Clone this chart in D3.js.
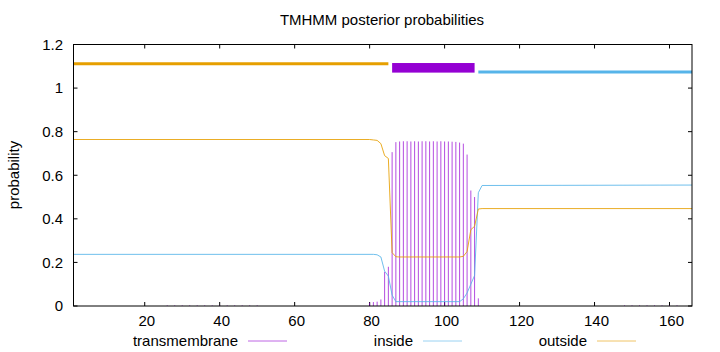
<!DOCTYPE html>
<html>
<head>
<meta charset="UTF-8">
<title>TMHMM posterior probabilities</title>
<style>
  body { margin: 0; background: #fff; }
  svg { display: block; }
  text { font-family: "Liberation Sans", Arial, sans-serif; font-size: 15px; fill: #000; }
</style>
</head>
<body>
<script src="https://d3js.org/d3.v7.min.js"></script>
<script>
// 서열 길이와 축 눈금
const seqLength = 166;
const xTicks = [20, 40, 60, 80, 100, 120, 140, 160];
const yTicks = [0, 0.2, 0.4, 0.6, 0.8, 1, 1.2];

// 상단 토폴로지 막대 (시작, 끝, 종류)
const regionStart = [1, 86, 109];
const regionEnd = [85, 108, 166];
const regionType = ["outside", "TM", "inside"];

// outside 확률 [잔기, 값]
const outsideProb = [
  [1, 0.764], [80, 0.764], [81, 0.762], [82, 0.76], [83, 0.745], [84, 0.69],
  [85, 0.677], [86, 0.245], [87, 0.226], [88, 0.225], [104, 0.225], [105, 0.228],
  [106, 0.25], [107, 0.35], [108, 0.366], [109, 0.445], [110, 0.447], [166, 0.447]
];

// inside 확률 [잔기, 값]
const insideProb = [
  [1, 0.237], [81, 0.237], [82, 0.235], [83, 0.225], [84, 0.16], [85, 0.137],
  [86, 0.05], [87, 0.02], [104, 0.02], [105, 0.033], [106, 0.06], [107, 0.1],
  [108, 0.14], [109, 0.52], [110, 0.553], [166, 0.555]
];

// transmembrane 확률 (impulses) [잔기, 값]
const tmProb = [
  [80, 0.015], [81, 0.018], [82, 0.02], [83, 0.03], [84, 0.157], [85, 0.18],
  [86, 0.706], [87, 0.752], [88, 0.755], [89, 0.756], [90, 0.756], [91, 0.755],
  [92, 0.756], [93, 0.755], [94, 0.756], [95, 0.756], [96, 0.755], [97, 0.756],
  [98, 0.755], [99, 0.756], [100, 0.755], [101, 0.755], [102, 0.754], [103, 0.753],
  [104, 0.75], [105, 0.745], [106, 0.695], [107, 0.53], [108, 0.5], [109, 0.035]
];
// 거의 0인 TM 값이 있는 잔기
const tmTraceResidues = [26, 28, 30, 32, 34, 36, 38, 40, 42, 44, 46, 48, 50,
  148, 150, 152, 154, 156, 158, 160, 162];
const tmTraceValue = 0.003;

const colors = { TM: "#9400d3", inside: "#56b4e9", outside: "#e69f00" };
const legendNames = ["transmembrane", "inside", "outside"];
const legendKeys = ["TM", "inside", "outside"];

const width = 720, height = 352;
const svg = d3.select("body").append("svg")
  .attr("width", width)
  .attr("height", height);

const x = d3.scaleLinear().domain([1, seqLength]).range([73.5, 692]);
const y = d3.scaleLinear().domain([0, 1.2]).range([306, 44.5]);

// 제목
svg.append("text")
  .attr("x", 382).attr("y", 25)
  .attr("text-anchor", "middle")
  .text("TMHMM posterior probabilities");

// y축 라벨
svg.append("text")
  .attr("transform", "translate(18.5,175) rotate(-90)")
  .attr("text-anchor", "middle")
  .text("probability");

// 눈금 (안쪽, 미러)
const tickLen = 4;
const frame = svg.append("g");
xTicks.forEach(t => {
  frame.append("line").attr("x1", x(t)).attr("x2", x(t))
    .attr("y1", y(0)).attr("y2", y(0) - tickLen).attr("stroke", "#000");
  frame.append("line").attr("x1", x(t)).attr("x2", x(t))
    .attr("y1", y(1.2)).attr("y2", y(1.2) + tickLen).attr("stroke", "#000");
});
yTicks.forEach(t => {
  frame.append("line").attr("x1", x(1)).attr("x2", x(1) + tickLen)
    .attr("y1", y(t)).attr("y2", y(t)).attr("stroke", "#000");
  frame.append("line").attr("x1", x(seqLength)).attr("x2", x(seqLength) - tickLen)
    .attr("y1", y(t)).attr("y2", y(t)).attr("stroke", "#000");
});

svg.append("g").selectAll("text")
  .data(xTicks).join("text")
  .attr("x", d => x(d) + 2).attr("y", 326)
  .attr("text-anchor", "middle")
  .text(d => d);

svg.append("g").selectAll("text")
  .data(yTicks).join("text")
  .attr("x", 63).attr("y", d => y(d))
  .attr("dy", "0.35em")
  .attr("text-anchor", "end")
  .text(d => d);

// TM impulses
const plot = svg.append("g");
const traces = tmTraceResidues.map(r => [r, tmTraceValue]);
plot.selectAll("line.tm")
  .data(traces.concat(tmProb)).join("line")
  .attr("class", "tm")
  .attr("x1", d => x(d[0])).attr("x2", d => x(d[0]))
  .attr("y1", y(0)).attr("y2", d => y(d[1]))
  .attr("stroke", colors.TM)
  .attr("stroke-opacity", 0.7)
  .attr("stroke-width", 1);

const line = d3.line().x(d => x(d[0])).y(d => y(d[1]));
plot.append("path").datum(insideProb)
  .attr("d", line).attr("fill", "none")
  .attr("stroke", colors.inside).attr("stroke-opacity", 0.85).attr("stroke-width", 1);
plot.append("path").datum(outsideProb)
  .attr("d", line).attr("fill", "none")
  .attr("stroke", colors.outside).attr("stroke-opacity", 0.85).attr("stroke-width", 1);

// 상단 토폴로지 막대
const barLevel = { outside: 1.112, inside: 1.074 };
regionType.forEach((t, i) => {
  if (t === "TM") {
    plot.append("rect")
      .attr("x", x(regionStart[i]))
      .attr("width", x(regionEnd[i]) - x(regionStart[i]))
      .attr("y", y(1.115))
      .attr("height", y(1.071) - y(1.115))
      .attr("fill", colors.TM);
  } else {
    plot.append("line")
      .attr("x1", x(regionStart[i])).attr("x2", x(regionEnd[i]))
      .attr("y1", y(barLevel[t])).attr("y2", y(barLevel[t]))
      .attr("stroke", colors[t]).attr("stroke-width", 3);
  }
});

// 테두리
svg.append("rect")
  .attr("x", x(1)).attr("y", y(1.2))
  .attr("width", x(seqLength) - x(1))
  .attr("height", y(0) - y(1.2))
  .attr("fill", "none").attr("stroke", "#000").attr("stroke-width", 1);

// 범례
const legendTextEnd = [238, 413, 587];
const legend = svg.append("g");
legendNames.forEach((name, i) => {
  legend.append("text")
    .attr("x", legendTextEnd[i]).attr("y", 346)
    .attr("text-anchor", "end")
    .text(name);
  legend.append("line")
    .attr("x1", legendTextEnd[i] + 10).attr("x2", legendTextEnd[i] + 49)
    .attr("y1", 341).attr("y2", 341)
    .attr("stroke", colors[legendKeys[i]])
    .attr("stroke-opacity", 0.6)
    .attr("stroke-width", 1);
});
</script>
</body>
</html>
